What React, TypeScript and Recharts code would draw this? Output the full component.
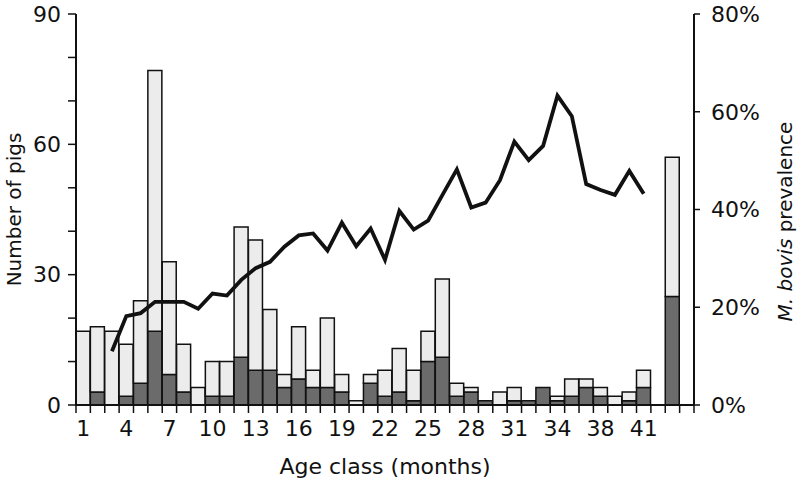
import React from 'react';
import { ComposedChart, Bar, Line, XAxis, YAxis, Label } from 'recharts';

// Age classes (months); one age class (37) is absent in the source, then an empty slot,
// a pooled bar, and a trailing empty slot.
const ageClasses: string[] = [
  '1','2','3','4','5','6','7','8','9','10','11','12','13','14','15','16','17','18','19','20',
  '21','22','23','24','25','26','27','28','29','30','31','32','33','34','35','36','38','39','40','41',
  'gap', 'all', 'end',
];

const totalPigs: (number | null)[] = [
  17, 18, 17, 14, 24, 77, 33, 14, 4, 10, 10, 41, 38, 22, 7, 18, 8, 20, 7, 1,
  7, 8, 13, 8, 17, 29, 5, 4, 1, 3, 4, 1, 4, 2, 6, 6, 4, 2, 3, 8,
  null, 57, null,
];

const positivePigs: (number | null)[] = [
  0, 3, 0, 2, 5, 17, 7, 3, 0, 2, 2, 11, 8, 8, 4, 6, 4, 4, 3, 0,
  5, 2, 3, 1, 10, 11, 2, 3, 1, 0, 1, 1, 4, 1, 2, 4, 2, 0, 1, 4,
  null, 25, null,
];

// M. bovis prevalence (%)
const prevalencePct: (number | null)[] = [
  null, null, 11.0, 18.2, 18.8, 21.1, 21.1, 21.1, 19.7, 22.8, 22.4, 25.6, 28.0, 29.3, 32.4, 34.7, 35.1, 31.6, 37.3, 32.5,
  36.1, 29.7, 39.7, 35.9, 37.7, 43.0, 48.2, 40.4, 41.4, 46.0, 53.9, 50.1, 53.0, 63.3, 59.1, 45.2, 44.0, 43.0, 47.9, 43.2,
  null, null, null,
];

const labelledAges: string[] = ['1','4','7','10','13','16','19','22','25','28','31','34','38','41'];
const leftTicks: number[] = [0, 10, 20, 30, 40, 50, 60, 70, 80, 90];
const leftLabelled: number[] = [0, 30, 60, 90];
const rightTicks: number[] = [0, 0.2, 0.4, 0.6, 0.8];

const data = ageClasses.map((age, i) => ({
  age,
  positive: positivePigs[i],
  negative: totalPigs[i] == null ? null : (totalPigs[i] as number) - (positivePigs[i] as number),
  prevalence: prevalencePct[i] == null ? null : (prevalencePct[i] as number) / 100,
}));

const W = 800;
const H = 486;
const LEFT_W = 76;
const RIGHT_W = 106;
const TOP = 14;
const X_H = 81;
const FONT = "'DejaVu Sans', 'Liberation Sans', Arial, sans-serif";
const FS = 22;
const DARK = '#6b6b6b';
const LIGHT = '#ececec';
const INK = '#111';

const slotW = (W - LEFT_W - RIGHT_W) / ageClasses.length;

const XTick = (props: any) => {
  const { x, y, payload, index } = props;
  const axisY = y - 8;
  const left = x - slotW / 2;
  const right = x + slotW / 2;
  const isLast = index === ageClasses.length - 1;
  const show = labelledAges.includes(payload.value);
  return (
    <g>
      <line x1={left} x2={left} y1={axisY} y2={axisY + 8} stroke={INK} strokeWidth={1.5} />
      {isLast && <line x1={right} x2={right} y1={axisY} y2={axisY + 8} stroke={INK} strokeWidth={1.5} />}
      {show && (
        <text x={x} y={axisY + 31} textAnchor="middle" fontFamily={FONT} fontSize={FS} fill={INK}>
          {payload.value}
        </text>
      )}
    </g>
  );
};

export default function App() {
  return (
    <div style={{ position: 'absolute', left: 0, top: 0, width: W, height: H, background: '#fff' }}>
      <ComposedChart
        width={W}
        height={H}
        data={data}
        margin={{ top: TOP, right: 0, bottom: 0, left: 0 }}
        barCategoryGap={0}
        barGap={0}
      >
        <XAxis
          dataKey="age"
          height={X_H}
          interval={0}
          tickLine={false}
          tickSize={8}
          tickMargin={0}
          axisLine={{ stroke: INK, strokeWidth: 2 }}
          tick={<XTick />}
        >
          <Label
            content={(p: any) => {
              const vb = p.viewBox;
              return (
                <text x={vb.x + vb.width / 2} y={vb.y + 69} textAnchor="middle" fontFamily={FONT} fontSize={FS} fill={INK}>
                  Age class (months)
                </text>
              );
            }}
          />
        </XAxis>
        <YAxis
          yAxisId="left"
          width={LEFT_W}
          domain={[0, 90]}
          ticks={leftTicks}
          interval={0}
          tickSize={8}
          tickMargin={7}
          tickFormatter={(v: number) => (leftLabelled.includes(v) ? String(v) : '')}
          axisLine={{ stroke: INK, strokeWidth: 2 }}
          tickLine={{ stroke: INK, strokeWidth: 1.5 }}
          tick={{ fontFamily: FONT, fontSize: FS, fill: INK }}
        >
          <Label
            content={(p: any) => {
              const vb = p.viewBox;
              const cx = vb.x + 14;
              const cy = vb.y + vb.height / 2;
              return (
                <text
                  x={cx}
                  y={cy}
                  transform={`rotate(-90 ${cx} ${cy})`}
                  textAnchor="middle"
                  dominantBaseline="central"
                  fontFamily={FONT}
                  fontSize={20}
                  fill={INK}
                >
                  Number of pigs
                </text>
              );
            }}
          />
        </YAxis>
        <YAxis
          yAxisId="right"
          orientation="right"
          width={RIGHT_W}
          domain={[0, 0.8]}
          ticks={rightTicks}
          interval={0}
          tickSize={6}
          tickMargin={11}
          tickFormatter={(v: number) => `${Math.round(v * 100)}%`}
          axisLine={{ stroke: INK, strokeWidth: 2 }}
          tickLine={{ stroke: INK, strokeWidth: 1.5 }}
          tick={{ fontFamily: FONT, fontSize: FS, fill: INK }}
        >
          <Label
            content={(p: any) => {
              const vb = p.viewBox;
              const cx = vb.x + 91;
              const cy = vb.y + vb.height / 2 + 12;
              return (
                <text
                  x={cx}
                  y={cy}
                  transform={`rotate(-90 ${cx} ${cy})`}
                  textAnchor="middle"
                  dominantBaseline="central"
                  fontFamily={FONT}
                  fontSize={20}
                  fill={INK}
                >
                  <tspan fontStyle="italic">M. bovis</tspan>
                  <tspan> prevalence</tspan>
                </text>
              );
            }}
          />
        </YAxis>
        <Bar
          yAxisId="left"
          dataKey="positive"
          stackId="pigs"
          fill={DARK}
          stroke={INK}
          strokeWidth={1.5}
          isAnimationActive={false}
        />
        <Bar
          yAxisId="left"
          dataKey="negative"
          stackId="pigs"
          fill={LIGHT}
          stroke={INK}
          strokeWidth={1.5}
          isAnimationActive={false}
        />
        <Line
          yAxisId="right"
          dataKey="prevalence"
          type="linear"
          stroke={INK}
          strokeWidth={3.8}
          dot={false}
          activeDot={false}
          connectNulls={false}
          isAnimationActive={false}
        />
      </ComposedChart>
    </div>
  );
}
